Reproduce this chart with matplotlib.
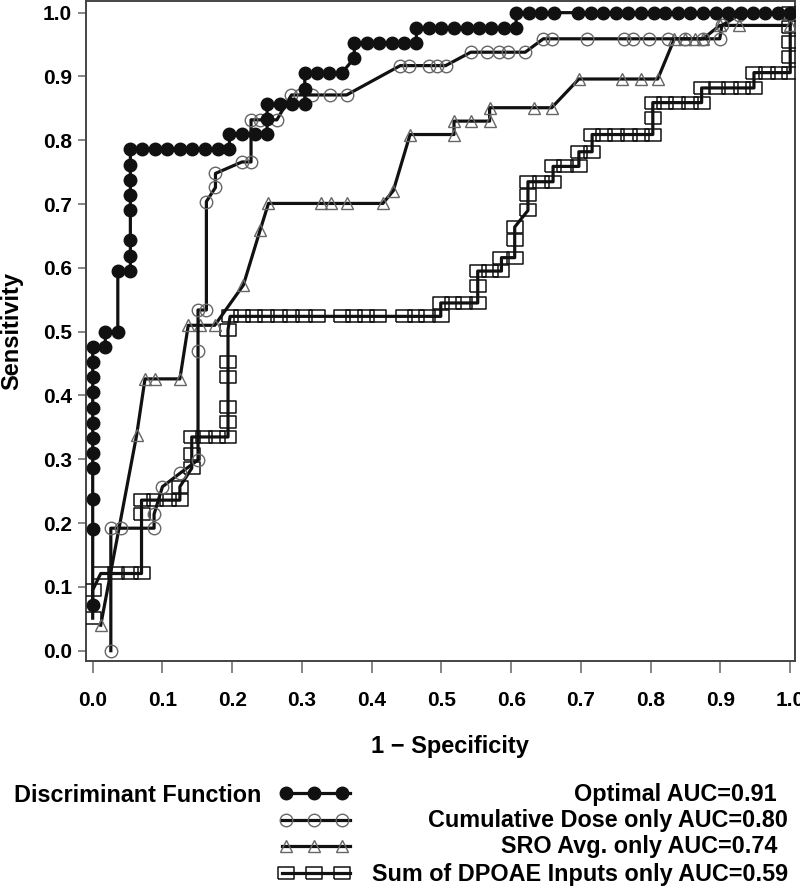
import matplotlib
matplotlib.use("Agg")
import matplotlib.pyplot as plt
from matplotlib.lines import Line2D

plt.rcParams["font.family"] = ["Liberation Sans", "DejaVu Sans"]
plt.rcParams["font.weight"] = "bold"

# ROC curves: (1 - specificity, sensitivity)
optimal_fpr = [0, 0, 0, 0, 0, 0, 0, 0, 0, 0, 0, 0,
               0.018, 0.018, 0.036, 0.036, 0.054, 0.054, 0.054, 0.054, 0.054, 0.054, 0.054, 0.054,
               0.071, 0.089, 0.107, 0.125, 0.143, 0.161, 0.179, 0.196,
               0.196, 0.214, 0.232, 0.25, 0.25, 0.25, 0.268, 0.286, 0.304,
               0.304, 0.304, 0.321, 0.339, 0.357, 0.375, 0.375,
               0.393, 0.411, 0.429, 0.446, 0.464, 0.464,
               0.482, 0.5, 0.518, 0.536, 0.554, 0.571, 0.589, 0.607, 0.607,
               0.625, 0.643, 0.661, 0.696, 0.714, 0.732, 0.75, 0.768, 0.786, 0.804,
               0.821, 0.839, 0.857, 0.875, 0.893, 0.911, 0.929, 0.946, 0.964, 0.982, 1.0]
optimal_tpr = [0.071, 0.19, 0.238, 0.286, 0.31, 0.333, 0.357, 0.381, 0.405, 0.429, 0.452, 0.476,
               0.476, 0.5, 0.5, 0.595, 0.595, 0.619, 0.643, 0.69, 0.714, 0.738, 0.762, 0.786,
               0.786, 0.786, 0.786, 0.786, 0.786, 0.786, 0.786, 0.786,
               0.81, 0.81, 0.81, 0.81, 0.833, 0.857, 0.857, 0.857, 0.857,
               0.881, 0.905, 0.905, 0.905, 0.905, 0.929, 0.952,
               0.952, 0.952, 0.952, 0.952, 0.952, 0.976,
               0.976, 0.976, 0.976, 0.976, 0.976, 0.976, 0.976, 0.976, 1.0,
               1.0, 1.0, 1.0, 1.0, 1.0, 1.0, 1.0, 1.0, 1.0, 1.0,
               1.0, 1.0, 1.0, 1.0, 1.0, 1.0, 1.0, 1.0, 1.0, 1.0, 1.0]

dose_fpr = [0.026, 0.026, 0.040, 0.088, 0.088, 0.100, 0.125, 0.151, 0.151, 0.151, 0.163, 0.163,
            0.176, 0.176, 0.214, 0.227, 0.227, 0.240, 0.264, 0.285, 0.297, 0.315, 0.340, 0.364,
            0.441, 0.454, 0.482, 0.494, 0.506, 0.542, 0.566, 0.583, 0.595, 0.620,
            0.646, 0.658, 0.709, 0.762, 0.774, 0.798, 0.825, 0.849, 0.875, 0.899, 0.902, 0.926, 1.0]
dose_tpr = [0.0, 0.192, 0.192, 0.192, 0.214, 0.257, 0.278, 0.299, 0.469, 0.534, 0.534, 0.704,
            0.726, 0.748, 0.766, 0.766, 0.832, 0.832, 0.832, 0.871, 0.871, 0.871, 0.871, 0.871,
            0.917, 0.917, 0.917, 0.917, 0.917, 0.938, 0.938, 0.938, 0.938, 0.938,
            0.959, 0.959, 0.959, 0.959, 0.959, 0.959, 0.959, 0.959, 0.959, 0.959, 0.980, 0.996, 1.0]

sro_fpr = [0.0115, 0.063, 0.075, 0.090, 0.125, 0.137, 0.154, 0.175, 0.216, 0.240, 0.252,
           0.327, 0.341, 0.365, 0.416, 0.431, 0.455, 0.518, 0.518, 0.542, 0.569, 0.569,
           0.632, 0.658, 0.697, 0.759, 0.786, 0.810, 0.834, 0.849, 0.863, 0.875,
           0.899, 0.926, 1.0, 1.0]
sro_tpr = [0.040, 0.338, 0.426, 0.426, 0.426, 0.510, 0.510, 0.510, 0.573, 0.659, 0.701,
           0.701, 0.701, 0.701, 0.701, 0.721, 0.809, 0.809, 0.830, 0.830, 0.830, 0.851,
           0.851, 0.851, 0.896, 0.896, 0.896, 0.896, 0.959, 0.959, 0.959, 0.959,
           0.980, 0.980, 0.980, 1.0]

dpoae_fpr = [0, 0, 0.0115, 0.034, 0.0535, 0.070, 0.070, 0.070, 0.089, 0.108, 0.125, 0.125,
             0.142, 0.142, 0.142, 0.159, 0.178, 0.194, 0.194, 0.194, 0.194, 0.194, 0.194,
             0.197, 0.214, 0.231, 0.249, 0.267, 0.285, 0.303, 0.321, 0.357, 0.375, 0.392, 0.409,
             0.446, 0.463, 0.479, 0.499, 0.499, 0.516, 0.533, 0.552, 0.552, 0.552, 0.569, 0.586,
             0.586, 0.605, 0.605, 0.605, 0.624, 0.624, 0.624, 0.643, 0.660, 0.660, 0.677, 0.697,
             0.697, 0.716, 0.716, 0.733, 0.750, 0.769, 0.786, 0.803, 0.803, 0.803, 0.820, 0.837,
             0.856, 0.873, 0.873, 0.895, 0.914, 0.931, 0.948, 0.948, 0.967, 0.984, 1.0,
             1.0, 1.0, 1.0, 1.0]
dpoae_tpr = [0.051, 0.095, 0.121, 0.121, 0.121, 0.121, 0.215, 0.236, 0.236, 0.236, 0.236, 0.257,
             0.286, 0.309, 0.335, 0.335, 0.335, 0.335, 0.359, 0.382, 0.429, 0.453, 0.503,
             0.524, 0.524, 0.524, 0.524, 0.524, 0.524, 0.524, 0.524, 0.524, 0.524, 0.524, 0.524,
             0.524, 0.524, 0.524, 0.524, 0.545, 0.545, 0.545, 0.545, 0.571, 0.595, 0.595, 0.595,
             0.616, 0.616, 0.643, 0.664, 0.690, 0.714, 0.735, 0.735, 0.735, 0.759, 0.759, 0.759,
             0.782, 0.782, 0.809, 0.809, 0.809, 0.809, 0.809, 0.809, 0.835, 0.859, 0.859, 0.859,
             0.859, 0.859, 0.882, 0.882, 0.882, 0.882, 0.882, 0.906, 0.906, 0.906, 0.906,
             0.930, 0.954, 0.978, 1.0]

labels = ["Optimal AUC=0.91", "Cumulative Dose only AUC=0.80",
          "SRO Avg. only AUC=0.74", "Sum of DPOAE Inputs only AUC=0.59"]
legend_title = "Discriminant Function"
xticks = [0.0, 0.1, 0.2, 0.3, 0.4, 0.5, 0.6, 0.7, 0.8, 0.9, 1.0]
yticks = xticks

# wide, short box marker like the original squares
rect = [(-1.2, -1.0), (1.2, -1.0), (1.2, 1.0), (-1.2, 1.0), (-1.2, -1.0)]
styles = [
    dict(marker="o", ms=9, mfc="#111111", mec="#111111", mew=1.0),
    dict(marker="o", ms=9, mfc="none", mec="#666666", mew=1.0),
    dict(marker="^", ms=9, mfc="none", mec="#666666", mew=1.0),
    dict(marker=rect, ms=11, mfc="none", mec="#111111", mew=1.1),
]
curves = [(optimal_fpr, optimal_tpr), (dose_fpr, dose_tpr),
          (sro_fpr, sro_tpr), (dpoae_fpr, dpoae_tpr)]

fig = plt.figure(figsize=(8.0, 8.89), dpi=100)
ax = fig.add_axes([0.1075, 0.2565, 0.8863, 0.7424])

for i in [3, 2, 1, 0]:
    fpr, tpr = curves[i]
    ax.plot(fpr, tpr, color="#111111", lw=2.3, zorder=3 + (3 - i), **styles[i])

ax.set_xlim(-0.0096, 1.0069)
ax.set_ylim(-0.0161, 1.0183)
ax.set_xticks(xticks)
ax.set_yticks(yticks)
ax.set_xticklabels([f"{t:.1f}" for t in xticks])
ax.set_yticklabels([f"{t:.1f}" for t in yticks])
ax.tick_params(axis="x", length=8.5, width=1.1, color="#666666", pad=13.0, labelsize=15)
ax.tick_params(axis="y", length=5.8, width=1.1, color="#666666", pad=4.3, labelsize=15)
for s in ax.spines.values():
    s.set_color("#444444")
    s.set_linewidth(1.4)

fig.text(450 / 800, 1 - 746 / 889, "1 \u2212 Specificity", ha="center", va="center", fontsize=17)
fig.text(12 / 800, 1 - 331 / 889, "Sensitivity", ha="center", va="center", rotation=90, fontsize=17)

# legend block below the axes, laid out in pixel coordinates
lax = fig.add_axes([0, 0, 1, 1], facecolor="none")
lax.set_xlim(0, 800)
lax.set_ylim(889, 0)
lax.axis("off")
row_y = [793, 819.5, 846, 873]
right_x = [777, 788, 777, 788]
lax.text(14, 795, legend_title, ha="left", va="center", fontsize=16.8)
for i in range(4):
    lax.add_line(Line2D([282, 350], [row_y[i], row_y[i]], color="#111111", lw=2.3))
    lax.add_line(Line2D([286, 314, 342], [row_y[i]] * 3, lw=0, **styles[i]))
    lax.text(right_x[i], row_y[i] + 1, labels[i], ha="right", va="center", fontsize=16.8)

fig.savefig("out.png", dpi=100)
